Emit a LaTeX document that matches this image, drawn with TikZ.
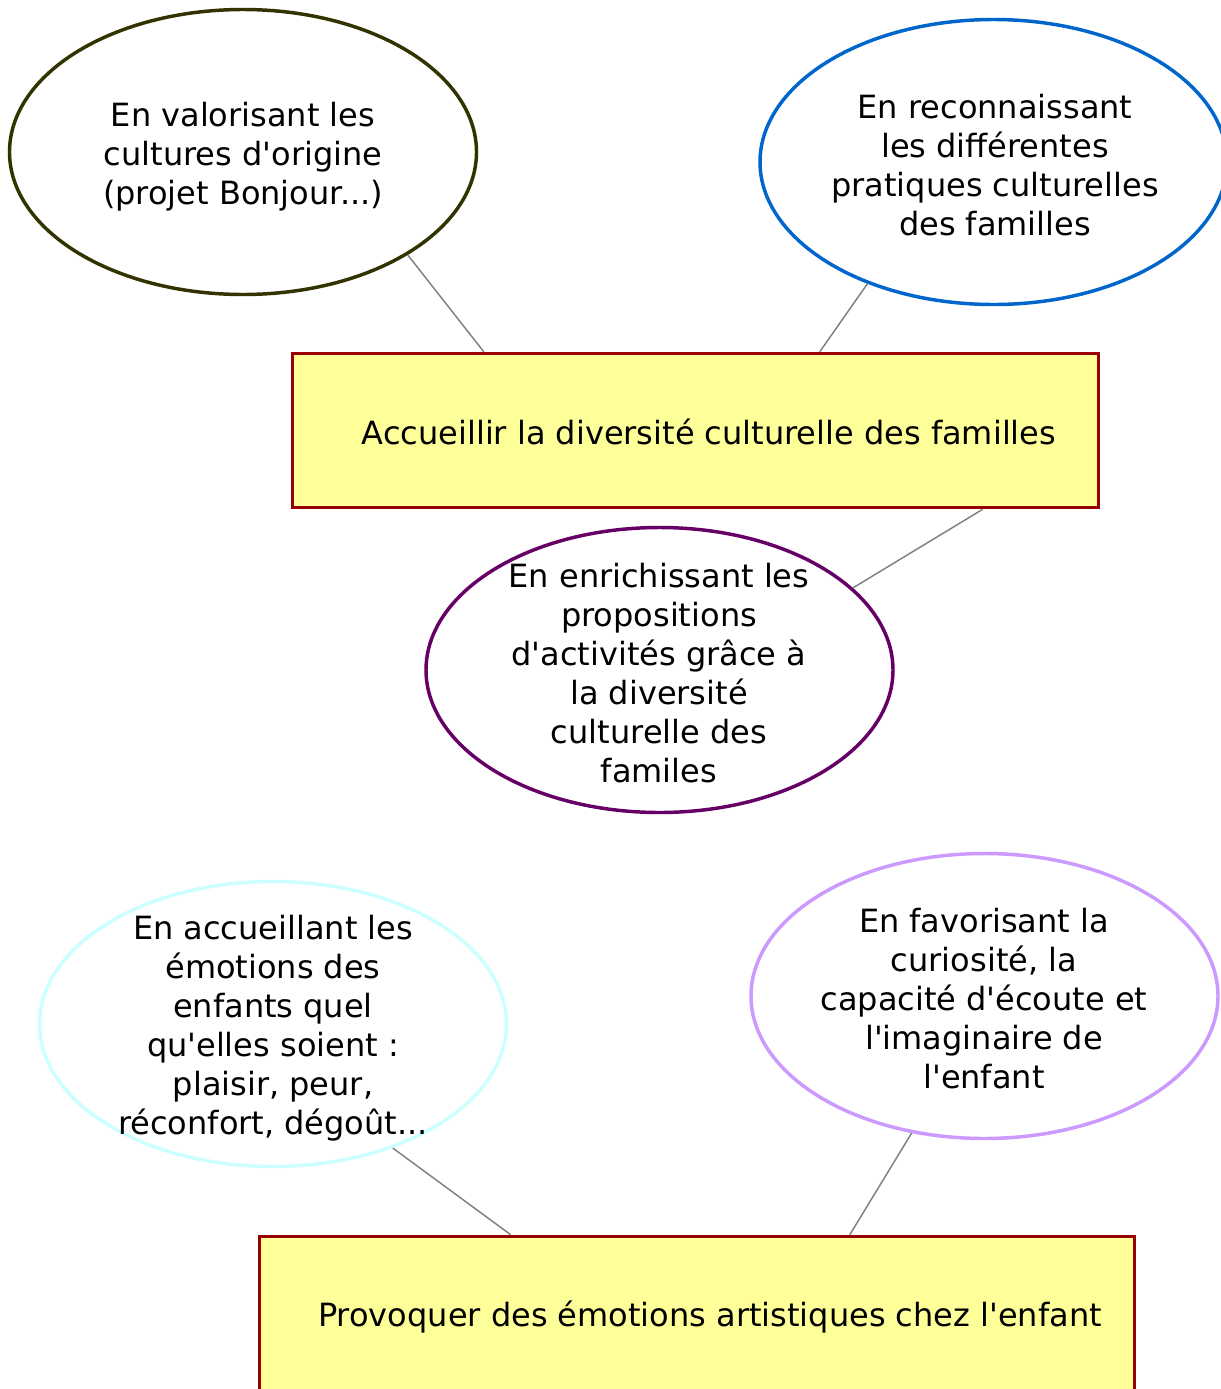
\documentclass[tikz,border=0pt]{standalone}
\usepackage{fontspec}
\setmainfont{DejaVu Sans}[Ligatures=TeXOff]
\usetikzlibrary{shapes.geometric,calc}
\definecolor{olv}{HTML}{333300}
\definecolor{blu}{HTML}{0066CC}
\definecolor{prp}{HTML}{660066}
\definecolor{cyn}{HTML}{CCFFFF}
\definecolor{lav}{HTML}{CC99FF}
\definecolor{boxred}{HTML}{990000}
\definecolor{boxyel}{HTML}{FFFF99}
\definecolor{conngray}{HTML}{808080}
\begin{document}
\begin{tikzpicture}[x=0.75pt,y=-0.75pt,
  ell/.style={ellipse,inner sep=0pt,minimum width=350.25pt,minimum height=213.75pt,line width=2.6pt,fill=white},
  txt/.style={align=center,font=\fontsize{24}{29.25}\selectfont,inner sep=0pt},
  goal/.style={rectangle,draw=boxred,fill=boxyel,line width=2.6pt,inner sep=0pt,minimum height=115.5pt},
  conn/.style={draw=conngray,line width=1.1pt}]
\useasboundingbox (0,0) rectangle (1221,1389);
% goal boxes
\node[goal,minimum width=604.5pt] (b1) at (695.5,430.5) {};
\node[txt] (b1t) at (709,432) {Accueillir la diversité culturelle des familles};
\node[goal,minimum width=656.25pt] (b2) at (697,1313.5) {};
\node[txt] (b2t) at (710,1317) {Provoquer des émotions artistiques chez l'enfant};
% ellipses
\node[ell,draw=olv] (e1) at (243,152) {};
\node[txt] (e1t) at (243,157) {En valorisant les\\cultures d'origine\\(projet Bonjour...)};
\node[ell,draw=blu] (e2) at (993.5,162) {};
\node[txt] (e2t) at (995,165) {En reconnaissant\\les différentes\\pratiques culturelles\\des familles};
\node[ell,draw=prp] (e3) at (659.5,670) {};
\node[txt] (e3t) at (659,673) {En enrichissant les\\propositions\\d'activités grâce à\\la diversité\\culturelle des\\familes};
\node[ell,draw=cyn] (e4) at (273,1024) {};
\node[txt] (e4t) at (273,1028) {En accueillant les\\émotions des\\enfants quel\\qu'elles soient :\\plaisir, peur,\\réconfort, dégoût...};
\node[ell,draw=lav] (e5) at (984.5,996) {};
\node[txt] (e5t) at (984,999) {En favorisant la\\curiosité, la\\capacité d'écoute et\\l'imaginaire de\\l'enfant};
% connectors
\draw[conn] (e1.-32) -- ($(b1.north west)+(193,0)$);
\draw[conn] (e2.224) -- ($(b1.north west)+(529,0)$);
\draw[conn] (e3.23.5) -- ($(b1.south west)+(692,0)$);
\draw[conn] (e4.-46.4) -- ($(b2.north west)+(253,0)$);
\draw[conn] (e5.-118.5) -- ($(b2.north west)+(592,0)$);
\end{tikzpicture}
\end{document}
